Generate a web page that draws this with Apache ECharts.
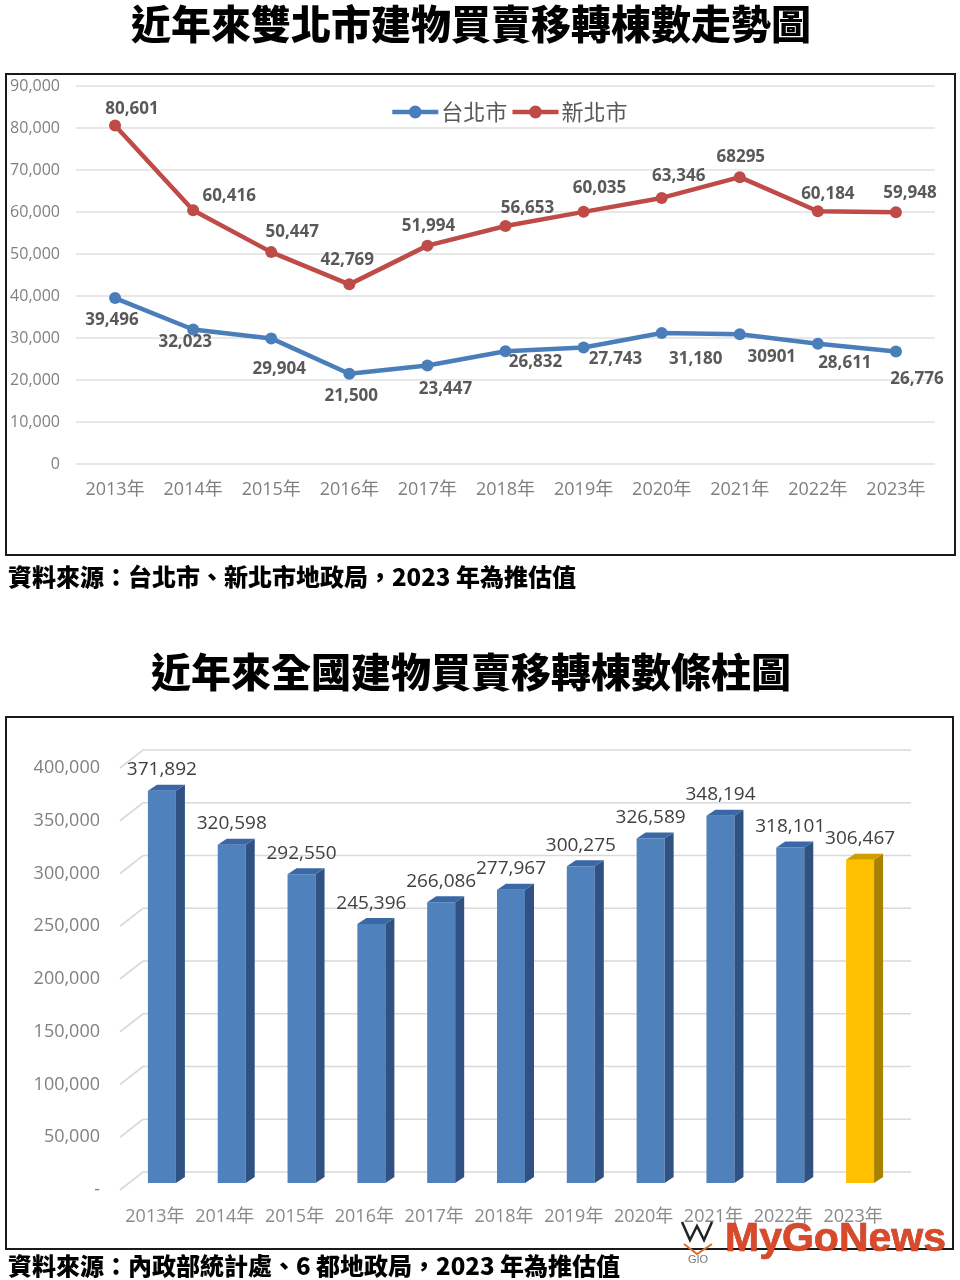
<!DOCTYPE html>
<html>
<head>
<meta charset="utf-8">
<script src="https://cdn.jsdelivr.net/npm/echarts@6/dist/echarts.min.js"></script>
<style>
html,body{margin:0;padding:0;background:#fff;}
#chart{width:960px;height:1280px;}
</style>
</head>
<body>
<div id="chart"></div>
<script>
// ---------- data ----------
const years = ['2013年','2014年','2015年','2016年','2017年','2018年','2019年','2020年','2021年','2022年','2023年'];
const taipei = [39496, 32023, 29904, 21500, 23447, 26832, 27743, 31180, 30901, 28611, 26776];
const newTaipei = [80601, 60416, 50447, 42769, 51994, 56653, 60035, 63346, 68295, 60184, 59948];
const national = [371892, 320598, 292550, 245396, 266086, 277967, 300275, 326589, 348194, 318101, 306467];
const lineTicks = [0, 10000, 20000, 30000, 40000, 50000, 60000, 70000, 80000, 90000];
const barTicks = [0, 50000, 100000, 150000, 200000, 250000, 300000, 350000, 400000];
const estimateYear = '2023年';
const plainLabelYear = '2021年'; // labels shown without thousands separator in the source
const seriesNames = ['台北市', '新北市'];
const title1 = '近年來雙北市建物買賣移轉棟數走勢圖';
const title2 = '近年來全國建物買賣移轉棟數條柱圖';
const source1 = '資料來源：台北市、新北市地政局，2023 年為推估值';
const source2 = '資料來源：內政部統計處、6 都地政局，2023 年為推估值';

// label offsets (layout only)
const redOff = [[17,-16],[36,-14],[21,-20],[-2,-24],[1,-19],[22,-18],[16,-24],[17,-22],[1,-20],[10,-17],[14,-19]];
const blueOff = [[-3,22],[-8,13],[8,31],[2,22],[18,24],[30,11],[32,12],[34,26],[32,23],[27,19],[21,28]];

const fmt = v => v.toLocaleString('en-US');
const CJK = '"Noto Sans CJK TC","Noto Sans CJK SC",sans-serif';
const NUM = '"Open Sans","Noto Sans CJK TC",sans-serif';

function lineData(vals, offs) {
  return vals.map((v, i) => ({
    value: v,
    label: { offset: offs[i] }
  }));
}
function lineFmt(p) {
  return p.name === plainLabelYear ? String(p.value) : fmt(p.value);
}

const chart = echarts.init(document.getElementById('chart'), null, {renderer: 'canvas'});

const option = {
  animation: false,
  backgroundColor: '#fff',
  textStyle: { fontFamily: NUM },
  legend: {
    data: seriesNames,
    left: 385, top: 96,
    itemWidth: 46, itemHeight: 16, itemGap: 3,
    lineStyle: { width: 4.5 },
    textStyle: { fontSize: 22, color: '#595959', fontFamily: CJK, padding: [0, 0, 0, -2] }
  },
  grid: [
    { left: 76, top: 86, width: 859, height: 378 },
    { left: 120, top: 768, width: 768, height: 422 },
    { left: 127, top: 761, width: 768, height: 422 }
  ],
  xAxis: [
    { type: 'category', gridIndex: 0, data: years, boundaryGap: true,
      axisLine: { show: false }, axisTick: { show: false },
      axisLabel: { interval: 0, margin: 17, fontSize: 18, color: '#7f7f7f', fontFamily: NUM } },
    { type: 'category', gridIndex: 1, data: years, boundaryGap: true,
      axisLine: { show: false }, axisTick: { show: false },
      axisLabel: { interval: 0, margin: 18, fontSize: 18, color: '#8a8a8a', fontFamily: NUM } },
    { type: 'category', gridIndex: 2, data: years, boundaryGap: true, show: false }
  ],
  yAxis: [
    { type: 'value', gridIndex: 0, min: 0, max: 90000, interval: 10000,
      axisLine: { show: false }, axisTick: { show: false },
      splitLine: { lineStyle: { color: '#e0e0e0', width: 1.5 } },
      axisLabel: { margin: 16, fontSize: 16, color: '#808080', formatter: v => fmt(v) } },
    { type: 'value', gridIndex: 1, min: 0, max: 400000, interval: 50000,
      axisLine: { show: false }, axisTick: { show: false }, splitLine: { show: false },
      axisLabel: { margin: 20, fontSize: 18, color: '#808080', formatter: v => v === 0 ? '-' : fmt(v) } },
    { type: 'value', gridIndex: 2, min: 0, max: 400000, show: false }
  ],
  series: [
    {
      name: seriesNames[1], type: 'line', xAxisIndex: 0, yAxisIndex: 0,
      data: lineData(newTaipei, redOff),
      symbol: 'circle', symbolSize: 12,
      lineStyle: { color: '#be4b48', width: 4.5 },
      itemStyle: { color: '#be4b48' },
      label: { show: true, position: 'inside', formatter: lineFmt,
        fontSize: 17, fontWeight: 'bold', color: '#595959', fontFamily: NUM }
    },
    {
      name: seriesNames[0], type: 'line', xAxisIndex: 0, yAxisIndex: 0,
      data: lineData(taipei, blueOff),
      symbol: 'circle', symbolSize: 12,
      lineStyle: { color: '#4a7ebb', width: 4.5 },
      itemStyle: { color: '#4a7ebb' },
      label: { show: true, position: 'inside', formatter: lineFmt,
        fontSize: 17, fontWeight: 'bold', color: '#595959', fontFamily: NUM }
    },
    {
      // perspective gridlines of the 3D bar chart (front edge -> back wall)
      type: 'custom', xAxisIndex: 1, yAxisIndex: 1, silent: true, z: 1,
      data: barTicks.map(v => [0, v]),
      renderItem: function (params, api) {
        const cs = params.coordSys;
        const y = api.coord([0, api.value(1)])[1];
        const x0 = cs.x, dx = 23, dy = -18;
        return {
          type: 'polyline',
          shape: { points: [[x0, y], [x0 + dx, y + dy], [cs.x + cs.width + dx, y + dy]] },
          style: { stroke: '#d9d9d9', lineWidth: 1.6, fill: null }
        };
      }
    },
    {
      type: 'custom', xAxisIndex: 2, yAxisIndex: 2, z: 3,
      data: national.map((v, i) => [i, v]),
      renderItem: function (params, api) {
        const idx = api.value(0), v = api.value(1);
        const b = api.coord([idx, 0]);
        const t = api.coord([idx, v]);
        const cx = b[0], by = b[1], ty = t[1];
        const hw = 14, dx = 9, dy = -6;
        const est = years[idx] === estimateYear;
        const cFront = est ? '#ffc000' : '#4f81bd';
        const cSide = est ? '#a88200' : '#2f5283';
        const cTop = est ? '#cf9d00' : '#3a67a5';
        return {
          type: 'group',
          children: [
            { type: 'rect', shape: { x: cx - hw, y: ty, width: hw * 2, height: by - ty },
              style: { fill: cFront } },
            { type: 'polygon', shape: { points: [[cx + hw, ty], [cx + hw + dx, ty + dy], [cx + hw + dx, by + dy], [cx + hw, by]] },
              style: { fill: cSide } },
            { type: 'polygon', shape: { points: [[cx - hw, ty], [cx - hw + dx, ty + dy], [cx + hw + dx, ty + dy], [cx + hw, ty]] },
              style: { fill: cTop } },
            { type: 'text', style: { text: fmt(v), x: cx, y: ty - 21, align: 'center', verticalAlign: 'middle',
                font: '19px "Open Sans", sans-serif', fill: '#404040' } }
          ]
        };
      }
    }
  ],
  graphic: [
    { type: 'text', x: 131, y: 4, style: { text: title1, font: '900 40px ' + CJK, fill: '#000' } },
    { type: 'rect', shape: { x: 6, y: 74, width: 949, height: 481 }, style: { fill: null, stroke: '#1a1a1a', lineWidth: 2 } },
    { type: 'text', x: 8, y: 565, style: { text: source1, font: '900 24px ' + CJK, fill: '#000' } },
    { type: 'text', x: 151, y: 652, style: { text: title2, font: '900 40px ' + CJK, fill: '#000' } },
    { type: 'rect', shape: { x: 6, y: 717, width: 947, height: 532 }, style: { fill: null, stroke: '#1a1a1a', lineWidth: 2 } },
    { type: 'text', x: 8, y: 1254, style: { text: source2, font: '900 24px ' + CJK, fill: '#000' } },
    // watermark
    { type: 'polyline', z: 100, shape: { points: [[682,1222],[690,1240],[697,1226],[704,1240],[712,1222]] },
      style: { stroke: '#222', lineWidth: 2.5, fill: null } },
    { type: 'polyline', z: 100, shape: { points: [[684,1244],[697,1254],[712,1244]] },
      style: { stroke: '#d9702a', lineWidth: 2, fill: null } },
    { type: 'text', z: 100, x: 688, y: 1254, style: { text: 'GIO', font: '11px "Liberation Sans", sans-serif', fill: '#777' } },
    { type: 'text', z: 100, x: 725, y: 1219, style: {
        text: 'MyGoNews', font: 'bold 41px "Liberation Sans", sans-serif',
        fill: '#d9492a', stroke: '#9a2e18', lineWidth: 0.6 } }
  ]
};
chart.setOption(option);
</script>
</body>
</html>
